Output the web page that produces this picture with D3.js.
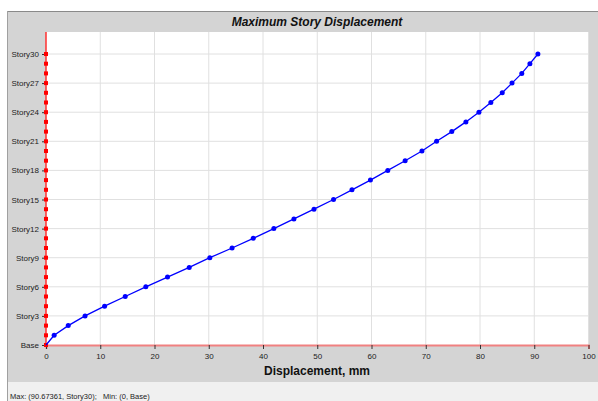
<!DOCTYPE html>
<html lang="en">
<head>
    <meta charset="UTF-8">
    <title>Maximum Story Displacement</title>
    <script src="https://d3js.org/d3.v7.min.js"></script>
    <style>
        body { margin: 0; background: white; font-family: Arial, "Liberation Sans", sans-serif; }
        svg { display: block; }
    </style>
</head>
<body>
<div id="chart"></div>
<script>
    // story numbers (0 = Base) and displacement in mm
    const stories = d3.range(0, 31);
    const displacement = [0, 1.5, 4.1, 7.2, 10.8, 14.6, 18.4, 22.4, 26.4, 30.2,
        34.3, 38.2, 42.0, 45.7, 49.4, 53.0, 56.4, 59.8, 63.0, 66.2,
        69.3, 72.0, 74.8, 77.4, 79.8, 82.0, 84.1, 85.9, 87.7, 89.2, 90.67361];
    const yTickStories = [0, 3, 6, 9, 12, 15, 18, 21, 24, 27, 30];
    const xTicks = d3.range(0, 101, 10);
    const storyName = s => s === 0 ? "Base" : "Story" + s;

    const width = 598, height = 401;
    const svg = d3.select("#chart").append("svg")
        .attr("width", width)
        .attr("height", height);

    // panels
    svg.append("rect").attr("x", 7).attr("y", 11).attr("width", width - 7).attr("height", 371)
        .attr("fill", "#d4d4d4");
    svg.append("rect").attr("x", 7).attr("y", 382).attr("width", width - 7).attr("height", 19)
        .attr("fill", "#f0f0f0");
    svg.append("line").attr("x1", 7).attr("x2", width).attr("y1", 11.5).attr("y2", 11.5)
        .attr("stroke", "#8a8a8a").attr("stroke-width", 1);
    svg.append("line").attr("x1", 7.5).attr("x2", 7.5).attr("y1", 11).attr("y2", height)
        .attr("stroke", "#a0a0a0").attr("stroke-width", 1);

    const x = d3.scaleLinear().domain([0, 100]).range([46, 588.5]);
    const y = d3.scaleLinear().domain([0, 30]).range([345, 54]);
    const plotTop = 32;

    svg.append("rect").attr("x", x(0)).attr("y", plotTop)
        .attr("width", x(100) - x(0)).attr("height", y(0) - plotTop)
        .attr("fill", "white");

    // grid
    svg.append("g").selectAll("line").data(xTicks.slice(1))
        .join("line")
        .attr("x1", d => x(d)).attr("x2", d => x(d))
        .attr("y1", plotTop).attr("y2", y(0))
        .attr("stroke", "#e0e0e0").attr("stroke-width", 1);
    svg.append("g").selectAll("line").data(yTickStories.slice(1))
        .join("line")
        .attr("x1", x(0)).attr("x2", x(100))
        .attr("y1", d => y(d)).attr("y2", d => y(d))
        .attr("stroke", "#e0e0e0").attr("stroke-width", 1);

    // x axis
    const xAxis = svg.append("g")
        .attr("transform", "translate(0," + y(0) + ")")
        .call(d3.axisBottom(x).tickValues(xTicks).tickSize(4).tickPadding(4));
    xAxis.select(".domain").attr("stroke", "#f08080").attr("stroke-width", 2);
    xAxis.selectAll(".tick line").attr("stroke", "#333");
    xAxis.selectAll("text").attr("font-size", 8).attr("fill", "#222")
        .attr("font-family", "Arial, 'Liberation Sans', sans-serif");

    // y axis
    const yAxis = svg.append("g")
        .attr("transform", "translate(" + x(0) + ",0)")
        .call(d3.axisLeft(y).tickValues(yTickStories).tickFormat(storyName).tickSize(4).tickPadding(3));
    yAxis.select(".domain").remove();
    yAxis.selectAll(".tick line").attr("stroke", "#333");
    yAxis.selectAll("text").attr("font-size", 8).attr("fill", "#222")
        .attr("font-family", "Arial, 'Liberation Sans', sans-serif");

    // red reference line at zero
    svg.append("line")
        .attr("x1", x(0)).attr("x2", x(0)).attr("y1", plotTop).attr("y2", y(0))
        .attr("stroke", "#ff3030").attr("stroke-width", 1.5);
    svg.append("g").selectAll("rect").data(stories)
        .join("rect")
        .attr("x", x(0) - 2).attr("y", d => y(d) - 2)
        .attr("width", 4).attr("height", 4)
        .attr("fill", "red");

    // displacement line
    const pts = stories.map((s, i) => [displacement[i], s]);
    svg.append("path")
        .datum(pts)
        .attr("fill", "none")
        .attr("stroke", "blue")
        .attr("stroke-width", 1.3)
        .attr("d", d3.line().x(d => x(d[0])).y(d => y(d[1])));
    svg.append("g").selectAll("circle").data(pts.slice(1))
        .join("circle")
        .attr("cx", d => x(d[0])).attr("cy", d => y(d[1]))
        .attr("r", 2.5)
        .attr("fill", "blue");

    // titles
    svg.append("text")
        .attr("x", 317).attr("y", 26)
        .attr("text-anchor", "middle")
        .attr("font-size", 12).attr("font-weight", "bold").attr("font-style", "italic")
        .attr("fill", "#111")
        .text("Maximum Story Displacement");
    svg.append("text")
        .attr("x", 317).attr("y", 375)
        .attr("text-anchor", "middle")
        .attr("font-size", 12).attr("font-weight", "bold")
        .attr("fill", "#111")
        .text("Displacement, mm");
    svg.append("text")
        .attr("x", 10).attr("y", 399)
        .attr("font-size", 7.5)
        .attr("fill", "#222")
        .attr("xml:space", "preserve")
        .text("Max: (90.67361, Story30);   Min: (0, Base)");
</script>
</body>
</html>
